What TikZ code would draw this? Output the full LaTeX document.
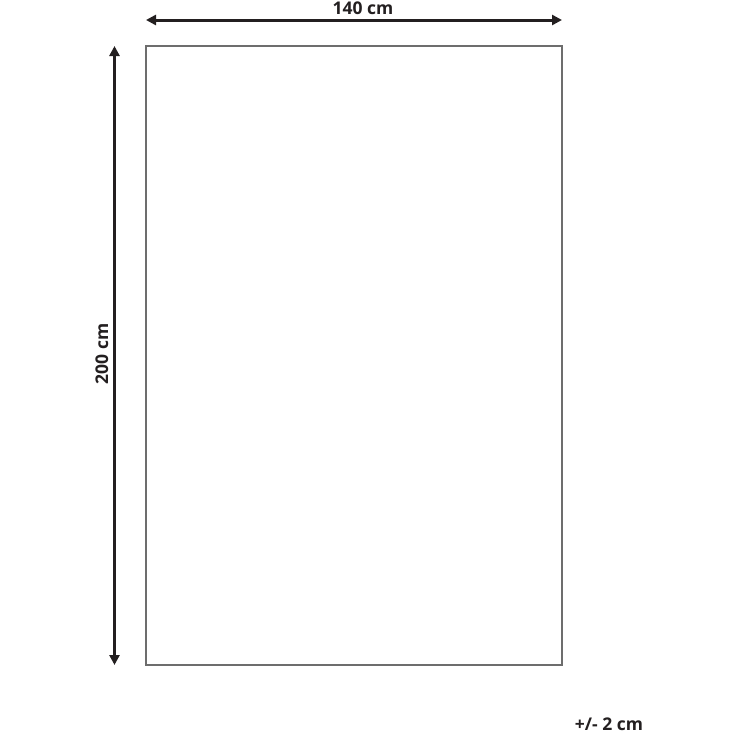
\documentclass[tikz,border=0pt]{standalone}
\usepackage{fontspec}
\setmainfont{Open Sans}
\usetikzlibrary{arrows.meta}
\usepackage{xcolor}
\definecolor{inkdark}{HTML}{231F20}
\definecolor{rimgray}{HTML}{6D6D6D}

\begin{document}
\begin{tikzpicture}[x=1pt,y=-1pt, dimline/.style={draw=inkdark,line width=3pt,{Triangle[length=10pt,width=10pt]}-{Triangle[length=10pt,width=10pt]}},
dimtext/.style={font=\bfseries\fontsize{17.5}{19}\selectfont,text=inkdark,inner sep=0pt}]
\useasboundingbox (0,0) rectangle (736,736);
\node[draw=rimgray,line width=1.2pt,minimum width=416pt,minimum height=619pt,inner sep=0pt] (rug) at (354,355.5) {};
\coordinate (topL) at (146,20); \coordinate (topR) at (562,20);
\coordinate (sideT) at (114.5,46); \coordinate (sideB) at (114.5,665);
\draw[dimline] (topL) -- (topR);
\draw[dimline] (sideT) -- (sideB);
\node[dimtext,anchor=base] (width) at (363,14) {140 cm};
\node[dimtext,anchor=base,rotate=90] (length) at (108,354) {200 cm};
\node[dimtext,anchor=base] (tolerance) at (609,730) {+/- 2 cm};
\end{tikzpicture}
\end{document}
